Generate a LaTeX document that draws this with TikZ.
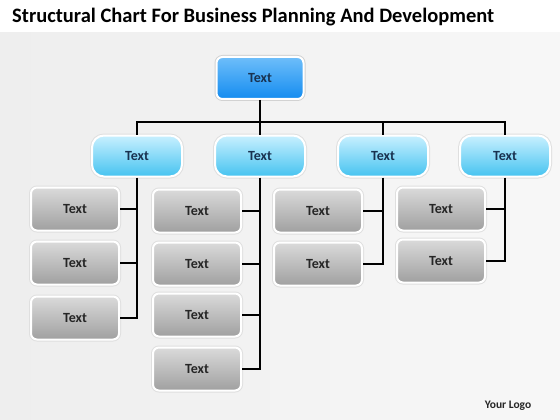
\documentclass[tikz,border=0pt]{standalone}
\usepackage{fontspec}
\setmainfont{Carlito}
\usetikzlibrary{positioning}
\definecolor{chBlueTop}{RGB}{110,190,250}
\definecolor{chBlueBot}{RGB}{20,140,240}
\definecolor{chCyanTop}{RGB}{200,240,255}
\definecolor{chCyanBot}{RGB}{70,195,240}
\definecolor{chGrayTop}{RGB}{218,218,218}
\definecolor{chGrayBot}{RGB}{160,160,160}
\definecolor{chNavy}{RGB}{25,50,80}
\definecolor{chInk}{RGB}{38,38,38}
\definecolor{chBack}{RGB}{238,238,238}

\tikzset{
  headbox/.style={rounded corners=6pt, top color=chBlueTop, bottom color=chBlueBot,
    draw=white, line width=2pt, preaction={draw=gray!35, line width=4pt},
    minimum width=87pt, minimum height=42pt, text=chNavy, font=\bfseries\fontsize{14}{16}\selectfont},
  groupbox/.style={rounded corners=12pt, top color=chCyanTop, bottom color=chCyanBot,
    draw=white, line width=2pt, preaction={draw=gray!25, line width=4pt},
    minimum width=90pt, minimum height=41pt, text=chNavy, font=\bfseries\fontsize{14}{16}\selectfont},
  itembox/.style={rounded corners=6pt, top color=chGrayTop, bottom color=chGrayBot,
    draw=white, line width=2pt, preaction={draw=gray!25, line width=4pt},
    minimum width=88pt, minimum height=43pt, text=chInk, font=\bfseries\fontsize{14}{16}\selectfont},
  link/.style={line width=1.5pt, black}
}

\begin{document}
\begin{tikzpicture}[x=1pt, y=-1pt]
  \useasboundingbox (0,0) rectangle (560,420);

  % Background
  \fill[white] (0,0) rectangle (560,420);
  \shade[left color=chBack, right color=white!97!black] (0,33) rectangle (560,420);

  % Title
  \node[anchor=west, inner sep=0pt, font=\bfseries\fontsize{20.5}{23}\selectfont] (title) at (12,17)
    {Structural Chart For Business Planning And Development};

  % Top box
  \node[headbox] (top) at (260,78) {Text};

  % Second level
  \node[groupbox] (gA) at (137,156) {Text};
  \node[groupbox] (gB) at (260,156) {Text};
  \node[groupbox] (gC) at (383,156) {Text};
  \node[groupbox] (gD) at (505,156) {Text};

  % Third level
  \node[itembox] (a1) at (75,209) {Text};
  \node[itembox] (a2) at (75,263) {Text};
  \node[itembox] (a3) at (75,318) {Text};

  \node[itembox] (b1) at (197,211) {Text};
  \node[itembox] (b2) at (197,264) {Text};
  \node[itembox] (b3) at (197,315) {Text};
  \node[itembox] (b4) at (197,369) {Text};

  \node[itembox] (c1) at (318,211) {Text};
  \node[itembox] (c2) at (318,264) {Text};

  \node[itembox] (d1) at (441,209) {Text};
  \node[itembox] (d2) at (441,261) {Text};

  % Connectors
  \coordinate (bar) at (260,122);
  \draw[link] (top.south) -- (bar);
  \draw[link] (gA.north) |- (bar) -| (gD.north);
  \draw[link] (bar) -- (gB.north);
  \draw[link] (gC.north) -- (gC.north |- bar);

  \draw[link] (gA.south) |- (a3.east);
  \draw[link] (a1.east) -- (a1.east -| gA.south);
  \draw[link] (a2.east) -- (a2.east -| gA.south);

  \draw[link] (gB.south) |- (b4.east);
  \foreach \n in {b1,b2,b3}
    \draw[link] (\n.east) -- (\n.east -| gB.south);

  \draw[link] (gC.south) |- (c2.east);
  \draw[link] (c1.east) -- (c1.east -| gC.south);

  \draw[link] (gD.south) |- (d2.east);
  \draw[link] (d1.east) -- (d1.east -| gD.south);

  % Logo
  \node[font=\bfseries\fontsize{11.5}{13}\selectfont, text=chInk] (logo) at (508,406) {Your Logo};
\end{tikzpicture}
\end{document}
